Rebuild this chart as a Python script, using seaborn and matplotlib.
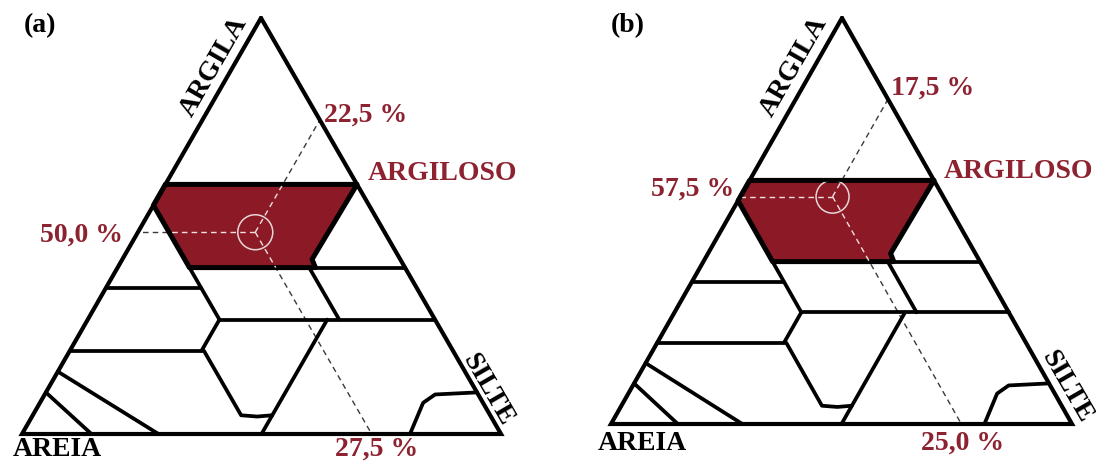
import matplotlib
matplotlib.use("Agg")
import matplotlib.pyplot as plt
from matplotlib.patches import Polygon, Circle
import numpy as np
import seaborn as sns

sns.set_theme(style="white")
plt.rcParams["font.family"] = ["Liberation Serif", "DejaVu Serif"]
plt.rcParams["text.color"] = "black"

# class boundaries of the textural triangle, as (clay %, silt %) vertices
boundaries = [
    [(60, 0), (60, 40)],                      # clay 60 line
    [(40, 41.3), (40, 60)],                   # clay 40 to silt edge
    [(40, 40), (27.5, 52.5)],                 # sand 20 line
    [(40, 15), (35, 20), (27.5, 27.5)],       # sand 45 line
    [(35, 0), (35, 20)],                      # clay 35 line
    [(27.5, 27.5), (27.5, 72.5)],             # clay 27.5 line
    [(27.5, 27.5), (20, 27.5)],               # silt 27.5 line
    [(20, 0), (20, 27.5)],                    # clay 20 line
    [(20, 28), (4.5, 43.5), (4.2, 47), (4.5, 50)],  # sand 52 / clay 4.5
    [(27.5, 50), (0, 50)],                    # silt 50 line
    [(0, 81), (7.5, 80), (9.5, 81.5), (10, 90)],    # silt corner
    [(15, 0), (0, 28.5)],                     # loamy sand
    [(10, 0), (0, 14.5)],                     # sand
]
argiloso = [(60, 0), (60, 40), (42, 39.6), (40, 41.3), (40, 15), (55, 0)]

# sample points (clay %, silt %) and their labels
panels = ["(a)", "(b)"]
point_clay = [48.5, 56.0]
point_silt = [24.5, 20.0]
label_clay = ["50,0 %", "57,5 %"]
label_silt = ["22,5 %", "17,5 %"]
label_sand = ["27,5 %", "25,0 %"]

# triangle corners in figure pixels: apex, bottom-left, bottom-right
corners = [
    [(261, 18), (22, 434), (501, 434)],
    [(842, 18), (611, 424), (1072, 424)],
]
# label positions (pixels)
pos = [
    dict(tag=(40, 26), argila=(214, 67), silte=(488, 390), areia=(57, 450),
         lsilt=(366, 115), arg=(443, 173), lclay=(81, 235), lsand=(377, 449)),
    dict(tag=(628, 26), argila=(794, 67), silte=(1067, 387), areia=(642, 443),
         lsilt=(933, 88), arg=(1019, 172), lclay=(693, 189), lsand=(963, 443)),
]

RED = "#8c1a26"
TXT_RED = "#8d2230"


def to_xy(pts, c):
    pts = np.asarray(pts, dtype=float) / 100.0
    clay, silt = pts[:, 0], pts[:, 1]
    sand = 1 - clay - silt
    A, L, R = (np.array(p, dtype=float) for p in c)
    xy = np.outer(clay, A) + np.outer(silt, R) + np.outer(sand, L)
    return xy[:, 0], xy[:, 1]


fig = plt.figure(figsize=(10.96, 4.62), dpi=100)
ax = fig.add_axes([0, 0, 1, 1])
ax.set_xlim(0, 1096)
ax.set_ylim(462, 0)
ax.axis("off")

for i in range(2):
    c = corners[i]
    p = pos[i]
    pc, ps = point_clay[i], point_silt[i]
    psand = 100 - pc - ps
    dash_pts = [
        [(pc, ps), (pc, 0)],
        [(pc, ps), (100 - ps, ps)],
        [(pc, ps), (0, 100 - psand)],
    ]
    for seg in dash_pts:
        x, y = to_xy(seg, c)
        ax.plot(x, y, color="#3a3a3a", lw=1.0, dashes=(4, 3), zorder=1)

    x, y = to_xy(argiloso, c)
    poly = Polygon(np.column_stack([x, y]), closed=True, facecolor=RED,
                   edgecolor="black", lw=3.6, joinstyle="round", zorder=2)
    ax.add_patch(poly)
    for seg in dash_pts:
        x, y = to_xy(seg, c)
        ln, = ax.plot(x, y, color="#f2dede", lw=1.0, dashes=(4, 3), zorder=3)
        ln.set_clip_path(poly)

    cx, cy = to_xy([(pc, ps)], c)
    ax.add_patch(Circle((cx[0], cy[0]), 17.5 if i == 0 else 16.5, fill=False,
                        edgecolor="#e8d6d6", lw=1.1, zorder=4))

    for b in boundaries:
        x, y = to_xy(b, c)
        sns.lineplot(x=x, y=y, sort=False, estimator=None, color="black",
                     lw=2.7, ax=ax, zorder=5, solid_capstyle="round")

    tri = to_xy([(100, 0), (0, 0), (0, 100), (100, 0)], c)
    ax.plot(tri[0], tri[1], color="black", lw=3.0, zorder=6,
            solid_joinstyle="miter")

    fs = 20
    ax.text(*p["tag"], panels[i], fontsize=fs, fontweight="bold",
            color="black", ha="center", va="center")
    ax.text(*p["argila"], "ARGILA", fontsize=fs, fontweight="bold",
            color="black", ha="center", va="center", rotation=60)
    ax.text(*p["silte"], "SILTE", fontsize=fs, fontweight="bold",
            color="black", ha="center", va="center", rotation=-60)
    ax.text(*p["areia"], "AREIA", fontsize=fs, fontweight="bold",
            color="black", ha="center", va="center")
    ax.text(*p["lsilt"], label_silt[i], fontsize=fs, fontweight="bold",
            color=TXT_RED, ha="center", va="center")
    ax.text(*p["arg"], "ARGILOSO", fontsize=fs, fontweight="bold",
            color=TXT_RED, ha="center", va="center")
    ax.text(*p["lclay"], label_clay[i], fontsize=fs, fontweight="bold",
            color=TXT_RED, ha="center", va="center")
    ax.text(*p["lsand"], label_sand[i], fontsize=fs, fontweight="bold",
            color=TXT_RED, ha="center", va="center")

fig.savefig("out.png", dpi=100, facecolor="white")
plt.close(fig)
